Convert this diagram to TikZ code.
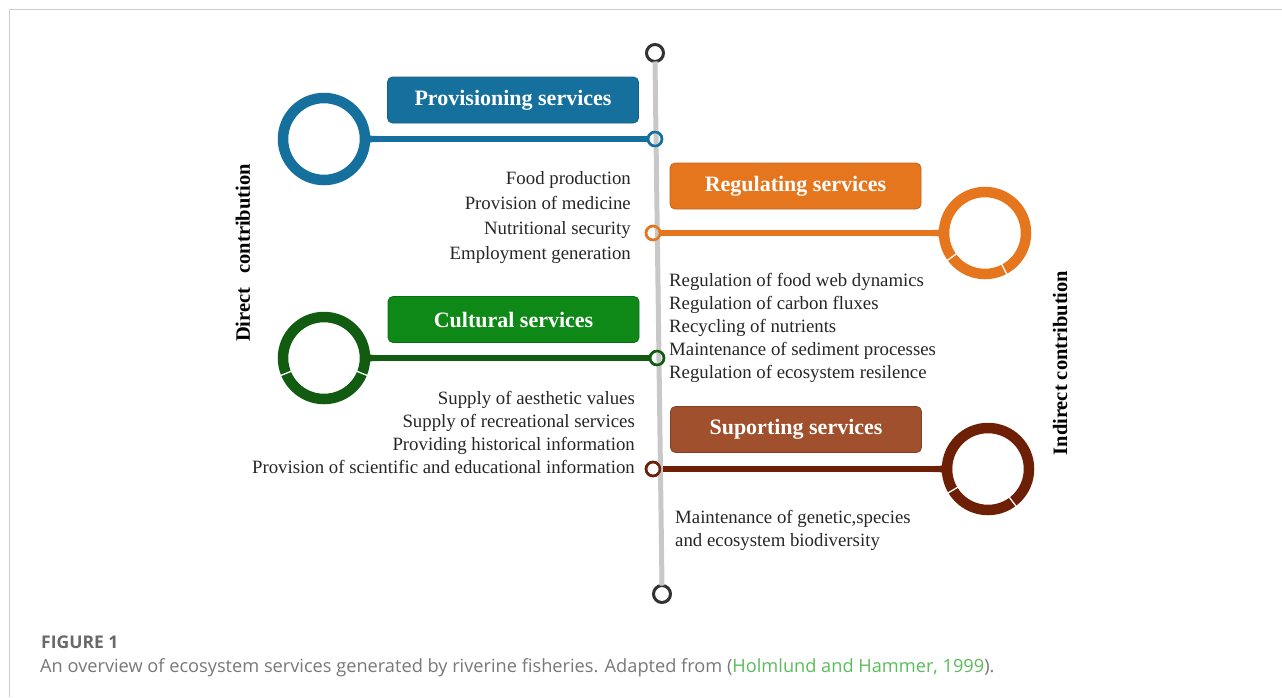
\documentclass[tikz,border=0pt]{standalone}
\usepackage{fontspec}
\setmainfont{Liberation Serif}
\newfontfamily\capfont{Open Sans}
\usetikzlibrary{calc}
\definecolor{blueC}{RGB}{22,112,158}
\definecolor{orangeC}{RGB}{230,118,30}
\definecolor{greenBox}{RGB}{14,136,22}
\definecolor{greenC}{RGB}{18,92,18}
\definecolor{brownBox}{RGB}{160,80,45}
\definecolor{brownC}{RGB}{110,32,6}
\definecolor{lineGray}{RGB}{200,200,200}
\definecolor{endGray}{RGB}{50,50,50}
\definecolor{frameGray}{RGB}{205,205,205}
\definecolor{capGray}{RGB}{120,120,120}
\definecolor{figGray}{RGB}{105,105,105}
\definecolor{linkGreen}{RGB}{90,188,90}
\begin{document}
\begin{tikzpicture}[x=1pt,y=-1pt,
  titlebox/.style={rounded corners=5pt, minimum width=251pt, minimum height=46pt,
    text=white, font=\fontsize{22}{26}\selectfont\bfseries, inner sep=0pt, line width=0.8pt},
  item/.style={font=\fontsize{18.8}{22}\selectfont, inner sep=0pt, text=black!85},
  ring/.style={circle, line width=10.5pt, minimum size=82pt, inner sep=0pt, outer sep=0pt},
  hline/.style={line width=6pt},
  vline/.style={line width=5pt, draw=lineGray},
  dotc/.style={circle, minimum size=14pt, inner sep=0pt, outer sep=0pt, line width=2.5pt, draw},
  endc/.style={circle, minimum size=17pt, inner sep=0pt, outer sep=0pt, line width=3pt, draw=endGray, fill=white},
  slit/.style={draw=white, line width=1.3pt},
  side/.style={font=\fontsize{20.5}{24}\selectfont\bfseries, rotate=90, inner sep=0pt},
  capt/.style={font=\capfont\fontsize{18.2}{22}\selectfont, text=capGray, inner sep=0pt, anchor=base west},
  flare/.pic={\fill (-5,-10) .. controls (3,-3) .. (14,-3) -- (14,3) .. controls (3,3) .. (-5,10) -- cycle;}
]
\useasboundingbox (0,0) rectangle (1282,697);
% frame
\draw[frameGray, line width=1.5pt] (9.5,697) -- (9.5,9.5) -- (1282,9.5);

% end circles and central line
\node[endc] (top) at (655,53) {};
\node[endc] (bot) at (662,594) {};

% rings
\node[ring, draw=blueC] (r1) at (324,139) {};
\node[ring, draw=orangeC] (r2) at (985,233) {};
\node[ring, draw=greenC] (r3) at (324,358) {};
\node[ring, draw=brownC] (r4) at (988,469) {};

% dots on the line
\node[dotc, draw=blueC] (d1) at (655,139) {};
\node[dotc, draw=orangeC] (d2) at (653,233) {};
\node[dotc, draw=greenC] (d3) at (657,358) {};
\node[dotc, draw=brownC] (d4) at (653,469) {};

% connectors
\draw[hline, blueC] (r1.east) -- (d1.west);
\draw[hline, orangeC] (d2.east) -- (r2.west);
\draw[hline, greenC] (r3.east) -- (d3.west);
\draw[hline, brownC] (d4.east) -- (r4.west);
\pic[blueC] at (r1.east) {flare};
\pic[greenC] at (r3.east) {flare};
\pic[orangeC, xscale=-1] at (r2.west) {flare};
\pic[brownC, xscale=-1] at (r4.west) {flare};

\draw[vline] (top.south) -- (bot.north);
\node[dotc, draw=blueC] at (d1) {};
\node[dotc, draw=orangeC] at (d2) {};
\node[dotc, draw=greenC] at (d3) {};
\node[dotc, draw=brownC] at (d4) {};

% slits in rings
\draw[slit] ($(r2)+(144:35)$) -- ($(r2)+(144:48)$);
\draw[slit] ($(r2)+(62:35)$) -- ($(r2)+(62:48)$);
\draw[slit] ($(r3)+(158:35)$) -- ($(r3)+(158:48)$);
\draw[slit] ($(r3)+(22:35)$) -- ($(r3)+(22:48)$);
\draw[slit] ($(r4)+(149:35)$) -- ($(r4)+(149:48)$);
\draw[slit] ($(r4)+(53:35)$) -- ($(r4)+(53:48)$);

% title boxes
\node[titlebox, fill=blueC, draw=blueC!85!black] (prov) at (513,100) {Provisioning services};
\node[titlebox, fill=orangeC, draw=orangeC!85!black] (reg) at (795.5,186) {Regulating services};
\node[titlebox, fill=greenBox, draw=greenBox!80!black] (cult) at (513.5,319.5) {Cultural services};
\node[titlebox, fill=brownBox, draw=brownBox!80!black] (sup) at (796,429.5) {Suporting services};

% item lists
\foreach \t [count=\i] in {Food production, Provision of medicine, Nutritional security, Employment generation}
  \node[item, anchor=base east] (p\i) at (631, {159+25*\i}) {\t};
\foreach \t [count=\i] in {Regulation of food web dynamics, Regulation of carbon fluxes, Recycling of nutrients, Maintenance of sediment processes, Regulation of ecosystem resilence}
  \node[item, anchor=base west] (g\i) at (669, {263+23*\i}) {\t};
\foreach \t [count=\i] in {Supply of aesthetic values, Supply of recreational services, Providing historical information, Provision of scientific and educational information}
  \node[item, anchor=base east] (c\i) at (635, {381+23*\i}) {\t};
\node[item, anchor=base west] (s1) at (675,523) {Maintenance of genetic,species};
\node[item, anchor=base west] (s2) at (675,546) {and ecosystem biodiversity};

% side labels
\node[side] (direct) at (243,253) {Direct\hspace{14pt}contribution};
\node[side] (indirect) at (1060,363) {Indirect contribution};

% caption
\node[capt, text=figGray, font=\capfont\fontsize{17.5}{22}\selectfont\bfseries] (fig) at (41,648) {FIGURE 1};
\node[capt] (cap) at (40,672) {An overview of ecosystem services generated by riverine fisheries. Adapted from (\textcolor{linkGreen}{Holmlund and Hammer, 1999}).};
\end{tikzpicture}
\end{document}
